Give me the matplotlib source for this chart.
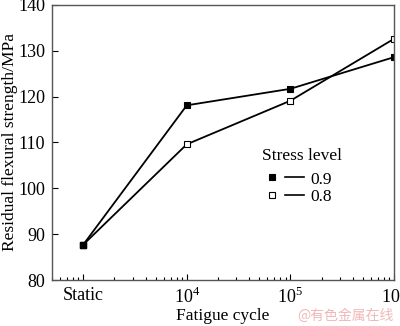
import matplotlib
matplotlib.use("Agg")
import matplotlib.pyplot as plt
from matplotlib.lines import Line2D
from matplotlib.legend_handler import HandlerTuple

plt.rcParams['font.family'] = ['Liberation Serif', 'DejaVu Serif']
plt.rcParams['mathtext.fontset'] = 'custom'
plt.rcParams['mathtext.rm'] = 'Liberation Serif'

# data ("Static" sits at 10^3 on the log axis)
cycles = [1e3, 1e4, 1e5, 1e6]
s09 = [87.7, 118.1, 121.7, 128.6]
s08 = [87.7, 109.6, 119.1, 132.6]
xtick_labels = ['Static', '$10^4$', '$10^5$', '$10^6$']
levels = ['0.9', '0.8']

fig = plt.figure(figsize=(4.0, 3.26), dpi=100)
ax = fig.add_axes([0.13, 0.141, 0.855, 0.844])

ax.plot(cycles, s09, color='black', lw=1.3, marker='s', ms=4.5,
        mfc='black', mec='black', mew=0.8)
ax.plot(cycles, s08, color='black', lw=1.3, marker='s', ms=4.5,
        mfc='white', mec='black', mew=0.8)
# the static point was drawn filled on top
ax.plot(cycles[:1], s09[:1], ls='none', marker='s', ms=4.5, mfc='black', mec='black')

ax.set_xscale('log')
ax.set_xlim(500, 1e6)
ax.set_ylim(80, 140)
ax.set_xticks(cycles)
ax.set_xticklabels(xtick_labels)
ax.set_yticks(range(80, 141, 10))

ax.tick_params(direction='in', labelsize=13, length=4, width=0.8, pad=5)
ax.tick_params(which='minor', direction='in', length=2.5, width=0.8)
ax.tick_params(axis='y', which='minor', left=False)
for sp in ax.spines.values():
    sp.set_color('#555555')
    sp.set_linewidth(1.0)

ax.set_xlabel('Fatigue cycle', fontsize=12.5, labelpad=1)
ax.set_ylabel('Residual flexural strength/MPa', fontsize=12.5, labelpad=0)

handles = []
for fc in ['black', 'white']:
    mk = Line2D([], [], ls='none', marker='s', ms=4, mfc=fc, mec='black', mew=0.8)
    ln = Line2D([], [], color='black', lw=1.2)
    handles.append((mk, ln))
leg = ax.legend(handles, levels, title='Stress level', fontsize=12.5,
                title_fontsize=12.5, frameon=False,
                handler_map={tuple: HandlerTuple(ndivide=None, pad=0.2)},
                handlelength=2.4, handletextpad=0.4, labelspacing=0.1,
                loc='upper left', bbox_to_anchor=(0.569, 0.535))
leg._legend_box.align = 'left'
leg._legend_box.sep = 5

fig.text(0.985, 0.01, '@有色金属在线', color='#f0b8b8', fontsize=10,
         ha='right', va='bottom', family=['Noto Sans CJK SC', 'DejaVu Sans'])

fig.savefig('out.png', dpi=100)
